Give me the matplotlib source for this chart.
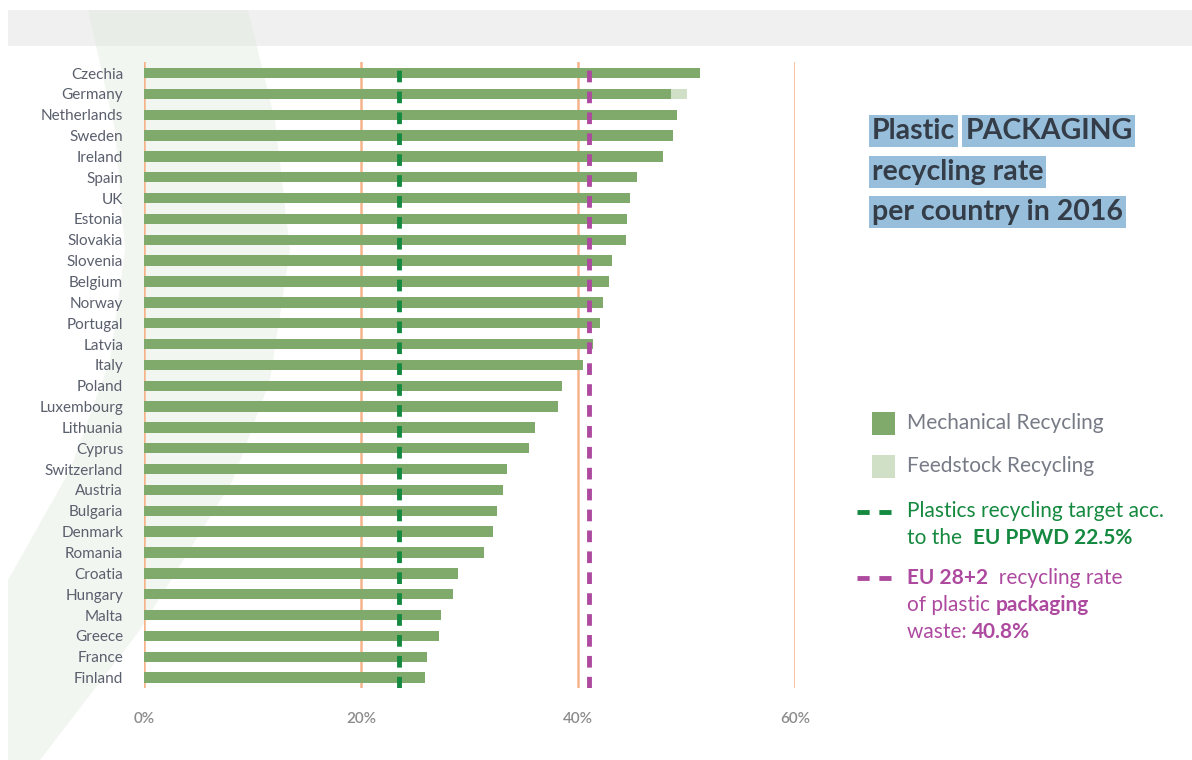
import numpy as np
import matplotlib
matplotlib.use("Agg")
import matplotlib.pyplot as plt
from matplotlib.patches import Rectangle, Polygon
from matplotlib.lines import Line2D

# data (percent)
countries = ["Czechia", "Germany", "Netherlands", "Sweden", "Ireland", "Spain", "UK",
             "Estonia", "Slovakia", "Slovenia", "Belgium", "Norway", "Portugal", "Latvia",
             "Italy", "Poland", "Luxembourg", "Lithuania", "Cyprus", "Switzerland",
             "Austria", "Bulgaria", "Denmark", "Romania", "Croatia", "Hungary", "Malta",
             "Greece", "France", "Finland"]
mechanical = [51.2, 48.6, 49.1, 48.8, 47.8, 45.4, 44.8, 44.5, 44.4, 43.1, 42.9, 42.3,
              42.0, 41.4, 40.5, 38.5, 38.2, 36.0, 35.5, 33.5, 33.1, 32.5, 32.2, 31.3,
              28.9, 28.5, 27.4, 27.2, 26.1, 25.9]
feedstock = [0, 1.4, 0, 0, 0, 0, 0, 0, 0, 0, 0, 0, 0, 0, 0, 0, 0, 0, 0, 0, 0, 0, 0, 0,
             0, 0, 0, 0, 0, 0]
gridlines = [0, 20, 40, 60]
tick_labels = ["0%", "20%", "40%", "60%"]
target_line = 23.5     # drawn position of the 22.5% PPWD target
eu_line = 41.0         # drawn position of the 40.8% EU rate

W, H = 1192, 760
FONT = "Lato"
bar_green = "#80aa6b"
feed_green = "#cfe0c6"
orange = "#f6b48a"
dash_green = "#14893f"
dash_purple = "#ad4a9f"
label_gray = "#5a5f6d"


def fx(x):
    return x / W


def fy(y):
    return 1 - y / H


fig = plt.figure(figsize=(W / 100, H / 100), dpi=100)

# decoration: grey top band and pale green swoosh, behind everything
fig.patches.append(Rectangle((fx(8), fy(46)), fx(W - 8), 36 / H, transform=fig.transFigure,
                             facecolor="#f0f0f0", edgecolor="none", zorder=-2))
swoosh = [(88, 10), (248, 10), (275, 120), (290, 250), (270, 380), (233, 480), (140, 630),
          (40, 760), (8, 760), (8, 580), (70, 470), (110, 360), (125, 250), (115, 130)]
fig.patches.append(Polygon([(fx(a), fy(b)) for a, b in swoosh], closed=True,
                           transform=fig.transFigure, facecolor="#dfe9dc", alpha=0.4,
                           edgecolor="none", zorder=-1))

ax = fig.add_axes([fx(144), fy(688), (795 - 144) / W, (688 - 62) / H])
ax.patch.set_alpha(0)
ax.set_zorder(1)

y = np.arange(len(countries))
for g in gridlines:
    ax.axvline(g, color=orange, lw=1.8, zorder=1)
ax.barh(y, mechanical, height=0.5, color=bar_green, zorder=2)
ax.barh(y, feedstock, left=mechanical, height=0.5, color=feed_green, zorder=2)
ax.axvline(target_line, color=dash_green, lw=3.5, dashes=(2.4, 1.9), zorder=3)
ax.axvline(eu_line, color=dash_purple, lw=3.5, dashes=(2.4, 1.9), zorder=3)

ax.set_xlim(0, 60)
ax.set_ylim(len(countries) - 0.5, -0.53)
ax.set_yticks(y)
ax.set_yticklabels(countries, fontfamily=FONT, fontsize=11, color=label_gray)
ax.set_xticks(gridlines)
ax.set_xticklabels(tick_labels, fontfamily=FONT, fontsize=11, color="#8c8c8c",
                   fontweight="semibold")
ax.tick_params(axis="y", length=0, pad=15)
ax.tick_params(axis="x", length=0, pad=17)
for s in ax.spines.values():
    s.set_visible(False)

renderer = fig.canvas.get_renderer()

# title with highlight boxes ("Plastic" and "PACKAGING" highlighted separately)
title_kw = dict(fontfamily=FONT, fontsize=20.5, fontweight="bold", color="#343c48",
                va="center", ha="left", transform=fig.transFigure, zorder=5)
hl = dict(facecolor="#97bfdb", edgecolor="none", pad=2)
t1 = fig.text(fx(872), fy(131), "Plastic", bbox=hl, **title_kw)
w1 = t1.get_window_extent(renderer).width
fig.text(fx(872 + w1 + 10), fy(131), "PACKAGING", bbox=hl, **title_kw)
fig.text(fx(872), fy(172), "recycling rate", bbox=hl, **title_kw)
fig.text(fx(872), fy(212), "per country in 2016", bbox=hl, **title_kw)

# legend
fig.patches.append(Rectangle((fx(872), fy(435)), 23 / W, 23 / H, transform=fig.transFigure,
                             facecolor=bar_green, edgecolor="none"))
fig.patches.append(Rectangle((fx(872), fy(478)), 23 / W, 23 / H, transform=fig.transFigure,
                             facecolor=feed_green, edgecolor="none"))
leg_kw = dict(fontfamily=FONT, fontsize=15, va="center", ha="left", transform=fig.transFigure)
fig.text(fx(907), fy(423), "Mechanical Recycling", color="#777b86", **leg_kw)
fig.text(fx(907), fy(466), "Feedstock Recycling", color="#777b86", **leg_kw)

for yy, col in [(512, dash_green), (578, dash_purple)]:
    fig.lines.append(Line2D([fx(857), fx(895)], [fy(yy), fy(yy)], transform=fig.transFigure,
                            color=col, lw=3.5, dashes=(2.5, 2.0)))


def text_run(x, yy, pieces, color):
    # place normal/bold pieces one after another on the same line
    for s, weight in pieces:
        t = fig.text(fx(x), fy(yy), s, color=color, fontweight=weight, **leg_kw)
        x += t.get_window_extent(renderer).width


text_run(907, 511, [("Plastics recycling target acc.", "normal")], dash_green)
text_run(907, 538, [("to the  ", "normal"), ("EU PPWD 22.5%", "bold")], dash_green)
text_run(907, 578, [("EU 28+2", "bold"), ("  recycling rate", "normal")], dash_purple)
text_run(907, 605, [("of plastic ", "normal"), ("packaging", "bold")], dash_purple)
text_run(907, 632, [("waste: ", "normal"), ("40.8%", "bold")], dash_purple)

fig.savefig("out.png", dpi=100)
